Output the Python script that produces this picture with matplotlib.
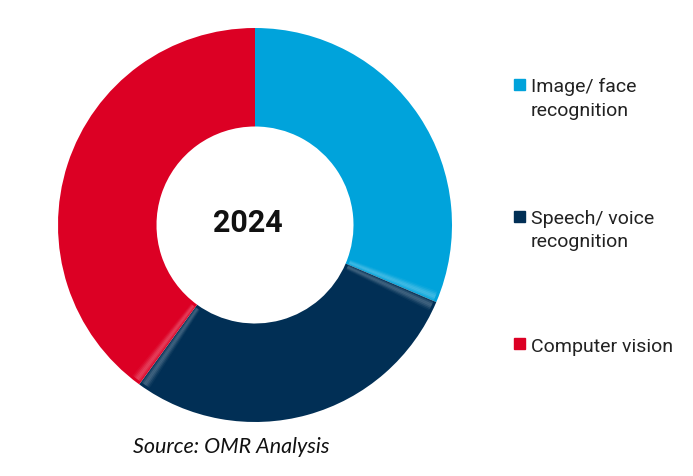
import matplotlib.pyplot as plt
from matplotlib.patches import Rectangle, Wedge

segments = ["Image/ face\nrecognition", "Speech/ voice\nrecognition", "Computer vision"]
shares = [31.4, 28.6, 40.0]
colors = ["#00A3DB", "#012F55", "#DC0024"]
year = "2024"
source = "Source: OMR Analysis"

W, H = 693, 477


def fx(px):
    return px / W


def fy(py):
    return 1 - py / H


fig = plt.figure(figsize=(W / 100, H / 100), dpi=100)
# donut centre ~ (255, 226) px, outer radius ~197 px
ax = fig.add_axes([fx(255 - 197), fy(226 + 197), 394 / W, 394 / H])

wedges, _ = ax.pie(shares, colors=colors, startangle=90, counterclock=False,
                   radius=1.0, wedgeprops=dict(width=0.5, edgecolor="none"))
ax.set_xlim(-1, 1)
ax.set_ylim(-1, 1)
ax.set_aspect("equal")
ax.axis("off")

# soft bevel glow on both sides of each joint (not the one at 12 o'clock)
glow = [0.06, 0.16, 0.24, 0.24, 0.18, 0.10, 0.04]
step = 0.45
for w in wedges:
    for edge, sign in ((w.theta1, 1), (w.theta2, -1)):
        if abs((edge - 90) % 360) < 1 or abs((edge + 270) % 360) < 1:
            continue
        for k, a in enumerate(glow):
            t0 = edge + sign * k * step
            t1 = edge + sign * (k + 1) * step
            ax.add_patch(Wedge((0, 0), 0.985, min(t0, t1), max(t0, t1), width=0.47,
                               facecolor="white", edgecolor="none", alpha=a))

ax.text(-0.035, -0.03, year, ha="center", va="baseline", fontsize=22,
        fontweight="bold", family=["Roboto", "DejaVu Sans"], color="#111111")

# legend, drawn by hand so the squares sit on the first line
sq_top = [80, 212, 339]
for lab, col, top in zip(segments, colors, sq_top):
    fig.patches.append(Rectangle((fx(514), fy(top + 10.5)), 11 / W, 10.5 / H,
                                 transform=fig.transFigure, color=col))
    for i, line in enumerate(lab.split("\n")):
        fig.text(fx(531), fy(top + 12.5 + 23 * i), line, ha="left", va="baseline",
                 fontsize=14, family=["Roboto", "DejaVu Sans"], color="#222222")

fig.text(fx(231), fy(453), source, ha="center", va="baseline", fontsize=15.5,
         style="italic", family=["Lato", "DejaVu Sans"], color="#111111")

fig.savefig("out.png", dpi=100)
